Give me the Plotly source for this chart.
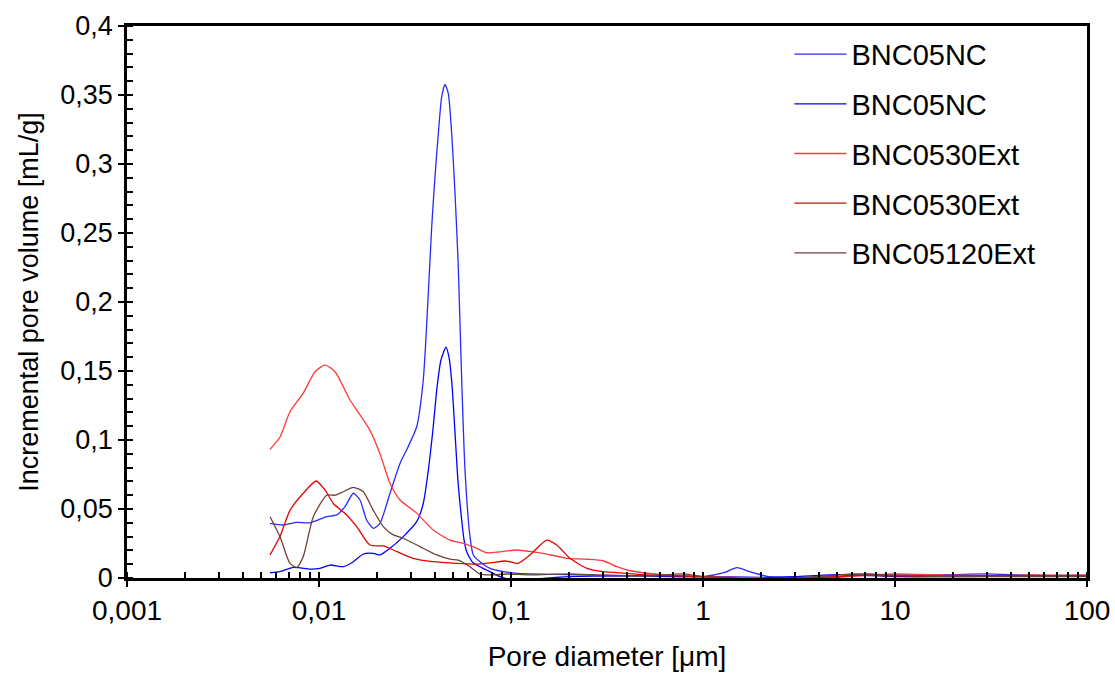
import plotly.graph_objects as go

# ---- data ----
nc1_d = [0.00556, 0.00649, 0.00766, 0.00898, 0.01097, 0.01237, 0.01366, 0.0151, 0.01635, 0.0177,
         0.01918, 0.02078, 0.02343, 0.02642, 0.02908, 0.03227, 0.03492, 0.03709, 0.03864, 0.04019,
         0.04182, 0.04356, 0.04532, 0.04715, 0.04911, 0.0511, 0.05314, 0.05536, 0.05761, 0.06116,
         0.06362, 0.06895, 0.07774, 0.0912, 0.1071, 0.2, 0.5, 1.0, 1.3, 1.5, 1.8, 2.2, 3.0, 5.0,
         7.0, 10.0, 20.0, 30.0, 50.0, 100.0]
nc1_v = [0.0396, 0.0384, 0.0403, 0.040, 0.0444, 0.0457, 0.0517, 0.0614, 0.0565, 0.042,
         0.036, 0.0396, 0.0614, 0.083, 0.095, 0.1096, 0.1435, 0.206, 0.2546, 0.2908,
         0.322, 0.3488, 0.3577, 0.351, 0.322, 0.2788, 0.2256, 0.1435, 0.078, 0.030,
         0.0167, 0.0118, 0.007, 0.0046, 0.0034, 0.0025, 0.0015, 0.001, 0.004, 0.0075, 0.004, 0.001, 0.0005, 0.001,
         0.003, 0.002, 0.0025, 0.003, 0.002, 0.002]

nc2_d = [0.00556, 0.00626, 0.00735, 0.00898, 0.01012, 0.01141, 0.01338, 0.0151, 0.01701, 0.01918,
         0.02078, 0.02343, 0.02748, 0.03227, 0.03492, 0.03709, 0.03937, 0.04117, 0.04318,
         0.04585, 0.04753, 0.04929, 0.0511, 0.05297, 0.05536, 0.05689, 0.05877, 0.06341,
         0.0747, 0.08765, 0.1024, 0.1256, 0.2, 0.5, 1.0, 2.0, 3.0, 5.0, 10.0, 20.0, 50.0, 100.0]
nc2_v = [0.0038, 0.0046, 0.0077, 0.0065, 0.007, 0.0094, 0.0082, 0.0118, 0.0174, 0.0179,
         0.0167, 0.0215, 0.030, 0.0408, 0.054, 0.078, 0.11, 0.138, 0.158,
         0.1672, 0.16, 0.14, 0.105, 0.07, 0.042, 0.028, 0.019, 0.011,
         0.0058, 0.001, -0.0015, -0.001, 0.001, 0.0015, 0.001, 0.0005, 0.001, 0.0025, 0.001, 0.001, 0.0015, 0.0015]

e30a_d = [0.00556, 0.00626, 0.00706, 0.00828, 0.00953, 0.01075, 0.01212, 0.0145, 0.01572, 0.01843,
          0.02078, 0.02343, 0.02642, 0.03227, 0.03937, 0.04811, 0.05643, 0.06628, 0.0747, 0.08765,
          0.1071, 0.1302, 0.1468, 0.1957, 0.2488, 0.3013, 0.3565, 0.4019, 0.487, 0.6494,
          1.0, 2.0, 3.0, 5.0, 7.0, 10.0, 20.0, 50.0, 100.0]
e30a_v = [0.0933, 0.102, 0.1205, 0.134, 0.1495, 0.1543, 0.1495, 0.129, 0.1217, 0.107,
          0.090, 0.0686, 0.0565, 0.047, 0.0348, 0.0275, 0.0251, 0.0215, 0.0183, 0.019,
          0.0203, 0.019, 0.0179, 0.0143, 0.0136, 0.0125, 0.0082, 0.0058, 0.0038, 0.0022,
          0.001, 0.0, -0.001, 0.0005, 0.002, 0.003, 0.002, 0.0015, 0.002]

e30b_d = [0.00556, 0.00626, 0.00706, 0.00828, 0.00965, 0.01075, 0.01187, 0.01394, 0.01572, 0.01843,
          0.02162, 0.02438, 0.03087, 0.03924, 0.05215, 0.06628, 0.07774, 0.09497, 0.1088, 0.1256,
          0.1535, 0.173, 0.2029, 0.2488, 0.3013, 0.4019, 0.5109, 1.0, 2.0, 3.0, 5.0, 7.0, 10.0,
          20.0, 50.0, 100.0]
e30b_v = [0.0167, 0.030, 0.049, 0.0614, 0.0703, 0.0638, 0.054, 0.0457, 0.0372, 0.0239,
          0.0232, 0.0203, 0.0143, 0.0118, 0.0106, 0.0101, 0.011, 0.0123, 0.0106, 0.0167,
          0.0275, 0.0239, 0.0143, 0.007, 0.0046, 0.0034, 0.0022, 0.001, -0.001, -0.0005, 0.001, 0.002, 0.0015,
          0.0015, 0.002, 0.0015]

e120_d = [0.00556, 0.00626, 0.00706, 0.00766, 0.00828, 0.00934, 0.01097, 0.01212, 0.01338, 0.0151,
          0.01701, 0.01918, 0.02162, 0.02438, 0.02748, 0.03357, 0.04102, 0.04811, 0.05314, 0.06116,
          0.06895, 0.07774, 0.09497, 0.1256, 0.2, 0.3, 0.5, 0.8, 1.0, 2.0, 3.0, 5.0, 6.0, 10.0,
          20.0, 50.0, 100.0]
e120_v = [0.0444, 0.030, 0.0106, 0.0077, 0.0155, 0.0444, 0.060, 0.060, 0.0625, 0.0657,
          0.0625, 0.049, 0.0372, 0.0312, 0.0288, 0.0227, 0.0167, 0.0136, 0.013, 0.0082,
          0.0029, 0.0022, 0.0029, 0.0022, 0.003, 0.002, 0.0015, 0.003, 0.001, -0.001, 0.0, 0.002, 0.003, 0.002,
          0.001, 0.001, 0.001]

names = ["BNC05NC", "BNC05NC", "BNC0530Ext", "BNC0530Ext", "BNC05120Ext"]
colors = ["#2a2aff", "#0000ff", "#ff3a3a", "#e60000", "#6e4238"]
series = [(nc1_d, nc1_v), (nc2_d, nc2_v), (e30a_d, e30a_v), (e30b_d, e30b_v), (e120_d, e120_v)]

x_tickvals = [0.001, 0.01, 0.1, 1, 10, 100]
x_ticktext = ["0,001", "0,01", "0,1", "1", "10", "100"]

FONT = "Liberation Sans, Arial, sans-serif"

fig = go.Figure()
for i, ((d, v), n, c) in enumerate(zip(series, names, colors)):
    fig.add_trace(go.Scatter(x=d, y=v, name=n, mode="lines",
                             line=dict(color=c, width=1.3, shape="spline", smoothing=0.6),
                             legendgroup=f"g{i}"))

fig.update_layout(
    width=1115, height=673,
    margin=dict(l=127, r=28, t=26, b=95),
    paper_bgcolor="white", plot_bgcolor="white",
    separators=",.",
    font=dict(family=FONT, size=28, color="black"),
    showlegend=True,
    legend=dict(x=0.69, y=0.995, xanchor="left", yanchor="top",
                font=dict(size=29, family=FONT), tracegroupgap=9, itemwidth=52,
                bgcolor="rgba(0,0,0,0)"),
    xaxis=dict(type="log", range=[-3, 2], tickvals=x_tickvals, ticktext=x_ticktext,
               automargin=False,
               ticks="outside", ticklen=6, tickwidth=2, tickcolor="black",
               showline=True, linecolor="black", linewidth=2.5, mirror=True,
               showgrid=False, zeroline=False,
               tickfont=dict(size=28),
               minor=dict(ticks="inside", ticklen=6, tickwidth=1.5, tickcolor="black", dtick="D1"),
               title=dict(text="Pore diameter [μm]", font=dict(size=28), standoff=22)),
    yaxis=dict(range=[0, 0.4], dtick=0.05, tick0=0,
               automargin=False,
               ticks="outside", ticklen=6, tickwidth=2, tickcolor="black",
               showline=True, linecolor="black", linewidth=2.5, mirror=True,
               showgrid=False, zeroline=False,
               tickfont=dict(size=27),
               minor=dict(ticks="inside", ticklen=6, tickwidth=1.5, tickcolor="black", dtick=0.01),
               title=dict(text="Incremental pore volume [mL/g]", font=dict(size=27), standoff=14)),
)

fig.write_html("out.html")
